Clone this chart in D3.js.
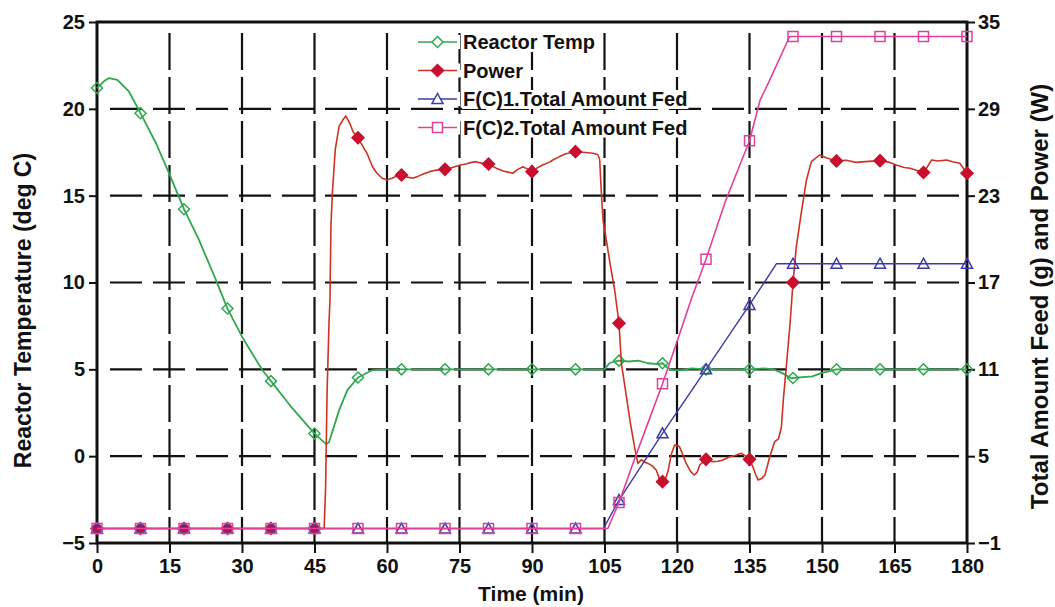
<!DOCTYPE html>
<html><head><meta charset="utf-8">
<script src="https://cdn.jsdelivr.net/npm/d3@7"></script>
<style>
html,body{margin:0;padding:0;background:#fff;}
svg text{font-family:"Liberation Sans",Arial,sans-serif;font-weight:bold;fill:#111;}
</style></head>
<body>
<svg id="chart" width="1055" height="607"></svg>
<script>
// ---------- data ----------
const xTicks = [0,15,30,45,60,75,90,105,120,135,150,165,180];
const leftTicks = [-5,0,5,10,15,20,25];
const rightTicks = [-1,5,11,17,23,29,35];
const seriesNames = ["Reactor Temp","Power","F(C)1.Total Amount Fed","F(C)2.Total Amount Fed"];

const tempTime = [0,1.5,2.5,4.2,6.6,9,12.2,14.9,18,21.1,24.6,27,30,34.2,36,40,45,47.4,48,50.1,51.8,54,57,60,63,72,81,90,99,105,106,107,108,110,112,114,116,117,118,119,121,123,126,130,135,138,140,142,143.7,144,146,148,150,151.6,153,162,171,180];
const tempVal  = [21.2,21.6,21.77,21.67,21.0,19.75,18.02,16.3,14.22,12.45,10.15,8.5,6.88,4.96,4.32,2.9,1.3,0.69,0.8,2.65,3.8,4.53,4.96,5.0,5.0,5.0,5.0,5.0,5.0,5.0,5.35,5.45,5.5,5.45,5.5,5.35,5.3,5.35,5.1,4.95,4.95,5.05,5.0,5.0,5.0,5.05,5.0,4.75,4.48,4.5,4.55,4.6,4.8,4.9,5.0,5.0,5.0,5.0];

const powerTime = [0,9,18,27,36,45,47,47.3,47.6,48,48.2,48.4,48.7,49.3,50.1,51,51.5,52.3,53,54,55,55.9,57,57.8,59,60,61,62,63,64,65.3,66.5,67.5,68.8,70,72,73,75,76.5,77.5,78.4,79.5,81,82.6,84,86,87,88.1,89,90,91,92.2,93.5,94.5,95.7,97,99,100.5,102.6,103.6,104,104.3,104.7,105.4,106.2,107.1,108,108.5,109.5,110.3,111.2,111.9,112.6,113.3,114,114.8,115.7,116.3,117,117.6,118.2,118.8,119.5,120.5,121.2,121.9,122.8,123.6,124.2,124.7,126,127.4,128.5,129.5,130.9,132,133.3,134.2,135,135.7,136.3,136.8,137.5,138.2,139.2,140.2,141,141.6,142,142.7,143.4,144,144.7,145.7,146.8,147.8,149.5,151,153,155,157,159,162,164,165.4,167,168.2,171,171.8,172.7,174,175.8,177,178.5,180];
const powerVal  = [0,0,0,0,0,0,0,2.9,9.4,14.2,15.8,20.9,23.2,26.2,27.8,28.3,28.5,28.0,27.4,27.0,26.4,25.9,25.0,24.6,24.2,24.1,24.2,24.35,24.43,24.3,24.2,24.35,24.5,24.66,24.75,24.82,24.9,25.1,25.2,25.3,25.35,25.25,25.19,24.9,24.7,24.55,24.8,25.0,24.85,24.66,24.9,25.12,25.3,25.5,25.7,25.9,26.04,26.0,25.93,25.85,25.5,23.5,21.3,19.9,18.2,16.5,14.18,11.4,9.2,7.4,5.66,4.5,4.75,4.6,4.5,4.35,4.04,3.5,3.24,3.4,4.04,5.1,5.77,5.66,5.1,4.5,3.95,3.7,3.9,4.39,4.78,4.62,4.65,4.74,4.96,5.05,5.2,5.0,4.78,4.27,3.7,3.35,3.45,3.7,4.96,6.0,6.2,7.0,8.9,11.5,14.2,17.0,19.5,21.8,24.1,25.35,25.81,25.6,25.4,25.45,25.3,25.35,25.42,25.3,25.12,24.95,24.89,24.6,25.0,25.47,25.4,25.47,25.35,25.24,24.55];

const feed1Time = [0,9,18,27,36,45,54,63,72,81,90,99,104.8,108,117,126,135,140.6,144,153,162,171,180];
const feed1Val  = [0,0,0,0,0,0,0,0,0,0,0,0,0,1.97,6.58,11.0,15.45,18.3,18.3,18.3,18.3,18.3,18.3];

const feed2Time = [0,9,18,27,36,45,54,63,72,81,90,99,105.7,108,111,114,117,120,123,126,130,135,137.2,139.2,143.3,144,153,162,171,180];
const feed2Val  = [0,0,0,0,0,0,0,0,0,0,0,0,0,1.8,4.6,7.3,10.0,12.9,15.9,18.6,22.6,26.8,29.6,31.0,34.0,34,34,34,34,34];

// ---------- layout ----------
const svg = d3.select("#chart");
const L = 97, R = 967, T = 22, B = 543;
const x = d3.scaleLinear().domain([0,180]).range([L,R]);
const yL = d3.scaleLinear().domain([-5,25]).range([B,T]);
const yR = d3.scaleLinear().domain([-1,35]).range([B,T]);

const colors = {temp:"#2fa84f", power:"#cc3322", powerMark:"#c8102e", feed1:"#3a3aaa", feed2:"#e0409a"};

// grid
const grid = svg.append("g");
grid.selectAll("line.v").data(xTicks.filter(t=>t>0&&t<180)).join("line")
  .attr("x1",d=>x(d)).attr("x2",d=>x(d)).attr("y1",T+11).attr("y2",B)
  .attr("stroke","#111").attr("stroke-width",2.2).attr("stroke-dasharray","37,7");
grid.selectAll("line.h").data(leftTicks.filter(t=>t>-5&&t<25)).join("line")
  .attr("y1",d=>yL(d)).attr("y2",d=>yL(d)).attr("x1",L+13).attr("x2",R)
  .attr("stroke","#111").attr("stroke-width",2.2).attr("stroke-dasharray","32,11");

// axes
const fs = "20px";
const ax = svg.append("g").attr("transform",`translate(0,${B})`)
  .call(d3.axisBottom(x).tickValues(xTicks).tickSize(10).tickPadding(6).tickFormat(d3.format("d")));
const ay = svg.append("g").attr("transform",`translate(${L},0)`)
  .call(d3.axisLeft(yL).tickValues(leftTicks).tickSize(8).tickPadding(4).tickFormat(d3.format("d")));
const ar = svg.append("g").attr("transform",`translate(${R},0)`)
  .call(d3.axisRight(yR).tickValues(rightTicks).tickSize(8).tickPadding(3).tickFormat(d3.format("d")));
[ax,ay,ar].forEach(g=>{
  g.select(".domain").remove();
  g.selectAll(".tick line").attr("stroke","#111").attr("stroke-width",2);
  g.selectAll(".tick text").attr("fill","#111").style("font-size",fs)
    .style("font-family","'Liberation Sans',Arial,sans-serif").style("font-weight","bold");
});

// frame
svg.append("rect").attr("x",L).attr("y",T).attr("width",R-L).attr("height",B-T)
  .attr("fill","none").attr("stroke","#111").attr("stroke-width",3);

// titles
svg.append("text").attr("transform",`translate(31,${(T+B)/2+28}) rotate(-90)`)
  .attr("text-anchor","middle").style("font-size","23px").text("Reactor Temperature (deg C)");
svg.append("text").attr("transform",`translate(1048,${(T+B)/2+14}) rotate(-90)`)
  .attr("text-anchor","middle").style("font-size","24px").text("Total Amount Feed (g) and Power (W)");
svg.append("text").attr("x",531).attr("y",601).attr("text-anchor","middle")
  .style("font-size","21px").text("Time (min)");

// marker shapes
const shapes = {
  diamond: "M0,-5.5L5.5,0L0,5.5L-5.5,0Z",
  fdiamond: "M0,-6L6,0L0,6L-6,0Z",
  triangle: "M0,-5.5L5.5,4.5L-5.5,4.5Z",
  square: "M-5,-5L5,-5L5,5L-5,5Z"
};

function drawSeries(times, vals, yScale, color, mColor, shape, filled, width){
  const pts = times.map((t,i)=>({t, v: vals[i]}));
  const g = svg.append("g");
  g.append("path").datum(pts)
    .attr("d", d3.line().x(d=>x(d.t)).y(d=>yScale(d.v)))
    .attr("fill","none").attr("stroke",color).attr("stroke-width",width).attr("stroke-linejoin","round");
  g.selectAll("path.m").data(pts.filter(d=>Number.isInteger(d.t/9))).join("path")
    .attr("transform",d=>`translate(${x(d.t)},${yScale(d.v)})`)
    .attr("d", shapes[shape])
    .attr("fill", filled ? mColor : "none")
    .attr("stroke", mColor).attr("stroke-width",1.5);
}

drawSeries(tempTime, tempVal, yL, colors.temp, colors.temp, "diamond", false, 1.8);
drawSeries(powerTime, powerVal, yR, colors.power, colors.powerMark, "fdiamond", true, 1.6);
drawSeries(feed1Time, feed1Val, yR, colors.feed1, colors.feed1, "triangle", false, 1.4);
drawSeries(feed2Time, feed2Val, yR, colors.feed2, colors.feed2, "square", false, 1.6);

// legend
const legend = svg.append("g");
const legendItems = [
  {name: seriesNames[0], color: colors.temp, m: colors.temp, shape:"diamond", filled:false},
  {name: seriesNames[1], color: colors.power, m: colors.powerMark, shape:"fdiamond", filled:true},
  {name: seriesNames[2], color: colors.feed1, m: colors.feed1, shape:"triangle", filled:false},
  {name: seriesNames[3], color: colors.feed2, m: colors.feed2, shape:"square", filled:false}
];
legendItems.forEach((it,i)=>{
  const cy = 42 + i*28.5;
  const g = legend.append("g");
  const txt = g.append("text").attr("x",463).attr("y",cy+7).style("font-size","20px").text(it.name);
  const bb = txt.node().getBBox();
  g.insert("rect","text").attr("x",bb.x-1).attr("y",bb.y+2).attr("width",bb.width+2).attr("height",bb.height-3).attr("fill","#fff");
  g.insert("rect","text").attr("x",416).attr("y",cy-7).attr("width",44).attr("height",14).attr("fill","#fff");
  g.append("line").attr("x1",418).attr("x2",457).attr("y1",cy).attr("y2",cy)
    .attr("stroke",it.color).attr("stroke-width",1.6);
  g.append("path").attr("transform",`translate(437.5,${cy})`).attr("d",shapes[it.shape])
    .attr("fill", it.filled ? it.m : "#fff").attr("stroke",it.m).attr("stroke-width",1.5);
});
</script>
</body></html>
